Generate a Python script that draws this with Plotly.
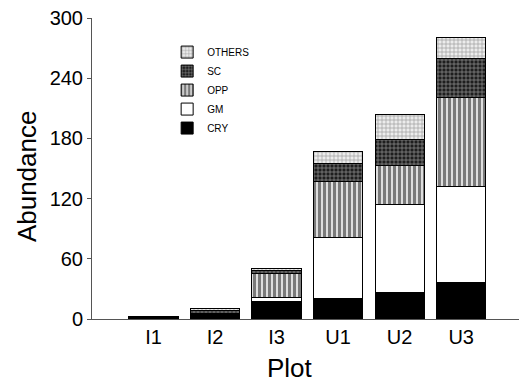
import plotly.graph_objects as go

plots = ["I1", "I2", "I3", "U1", "U2", "U3"]
cry = [1.5, 5, 17, 20, 26, 36]
gm = [0, 0, 4, 61, 88, 96]
opp = [0, 0, 24, 56, 39, 89]
sc = [0, 3, 3, 18, 26, 39]
others = [0.5, 2, 2, 12, 25, 21]
y_ticks = [0, 60, 120, 180, 240, 300]

FONT = "Liberation Sans, Arial, Helvetica, sans-serif"

series = [
    ("CRY", cry, dict(color="black", pattern=dict(shape=""))),
    ("GM", gm, dict(color="white", pattern=dict(shape=""))),
    ("OPP", opp, dict(color="white", pattern=dict(shape="|", fgcolor="#7a7a7a", bgcolor="white", size=5, solidity=0.7, fillmode="replace"))),
    ("SC", sc, dict(color="#2a2a2a", pattern=dict(shape="+", fgcolor="#9a9a9a", bgcolor="#1e1e1e", size=4, solidity=0.3, fillmode="replace"))),
    ("OTHERS", others, dict(color="#e0e0e0", pattern=dict(shape="+", fgcolor="#9a9a9a", bgcolor="#ececec", size=4, solidity=0.3, fillmode="replace"))),
]

fig = go.Figure()
for name, vals, mk in series:
    marker = dict(mk)
    marker["line"] = dict(color="black", width=1)
    fig.add_trace(go.Bar(x=plots, y=vals, name=name, marker=marker, width=0.8))

fig.update_layout(
    barmode="stack",
    width=525, height=383,
    margin=dict(l=92, r=6, t=18, b=64),
    paper_bgcolor="white", plot_bgcolor="white",
    font=dict(family=FONT, color="black"),
    showlegend=True,
    legend=dict(
        traceorder="reversed",
        x=0.176, y=0.935, xanchor="left", yanchor="top",
        font=dict(size=10, family=FONT),
        bgcolor="rgba(0,0,0,0)",
        tracegroupgap=0,
    ),
    xaxis=dict(
        range=[-1, 5.94],
        showline=True, linecolor="#555", linewidth=1,
        ticks="", tickfont=dict(size=20, family=FONT),
        showgrid=False, zeroline=False,
    ),
    yaxis=dict(
        range=[0, 300],
        tickvals=y_ticks,
        showline=True, linecolor="#555", linewidth=1,
        ticks="outside", ticklen=4, tickcolor="#555",
        tickfont=dict(size=20, family=FONT),
        showgrid=False, zeroline=False,
    ),
    annotations=[
        dict(text="Plot", xref="paper", yref="paper", x=0.464, y=-0.163,
             xanchor="center", yanchor="middle", showarrow=False,
             font=dict(size=26, family=FONT)),
        dict(text="Abundance", xref="paper", yref="paper", x=-0.152, y=0.475,
             xanchor="center", yanchor="middle", showarrow=False, textangle=-90,
             font=dict(size=26, family=FONT)),
    ],
)

fig.write_html("out.html")
